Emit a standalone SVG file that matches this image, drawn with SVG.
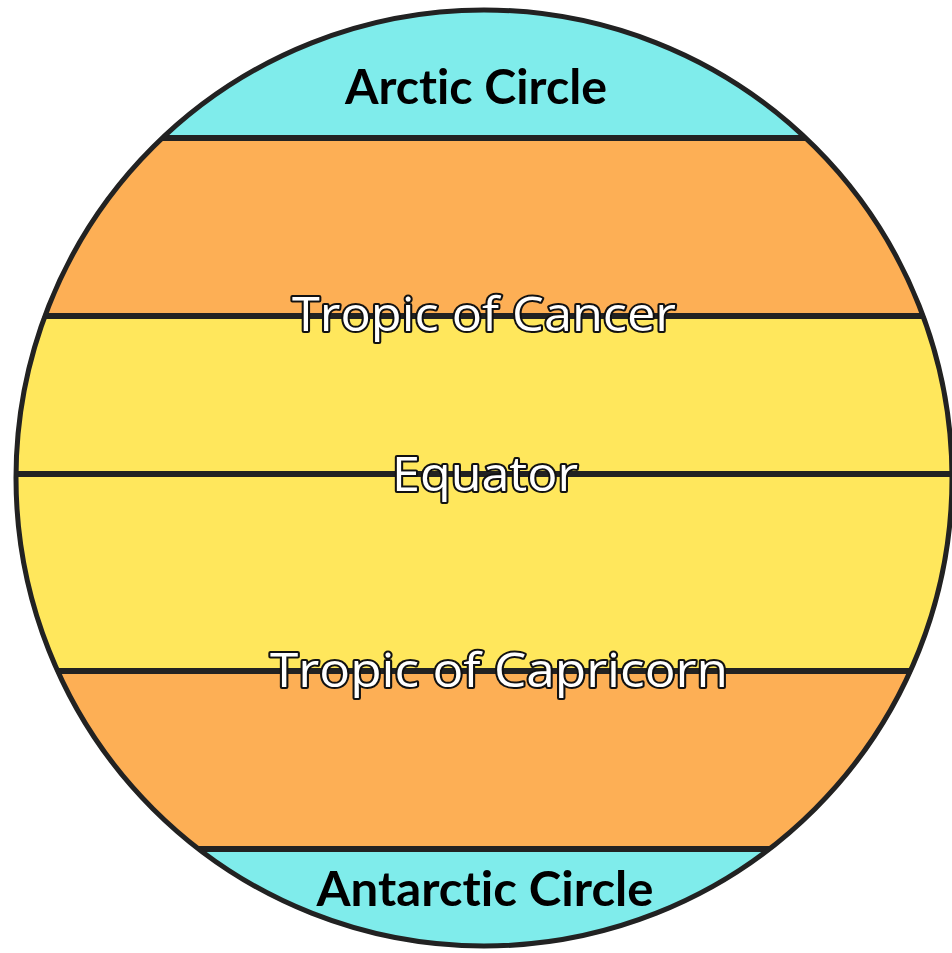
<svg xmlns="http://www.w3.org/2000/svg" width="952" height="953" viewBox="0 0 952 953">
<style>
.band{stroke:none}
.line{stroke:#222;stroke-width:6;fill:none}
.dark{font-family:Lato,"Open Sans",sans-serif;font-weight:700;font-size:48px;fill:#000;text-anchor:middle;font-variant-ligatures:none}
.light{font-family:"Open Sans",Lato,sans-serif;font-weight:500;font-size:48px;fill:#fff;stroke:#111;stroke-width:4;stroke-linejoin:round;paint-order:stroke;text-anchor:middle;font-variant-ligatures:none}
</style>
<defs>
<clipPath id="globe"><circle cx="484" cy="478" r="470"/></clipPath>
</defs>
<g id="globe-bands" clip-path="url(#globe)">
<rect class="band" x="0" y="0" width="952" height="138" fill="#7FECEB"/>
<rect class="band" x="0" y="138" width="952" height="178" fill="#FDAF55"/>
<rect class="band" x="0" y="316" width="952" height="355" fill="#FFE75C"/>
<rect class="band" x="0" y="671" width="952" height="178" fill="#FDAF55"/>
<rect class="band" x="0" y="849" width="952" height="110" fill="#7FECEB"/>
</g>
<g id="connectors" clip-path="url(#globe)">
<line class="line" x1="0" y1="138" x2="952" y2="138"/>
<line class="line" x1="0" y1="316" x2="952" y2="316"/>
<line class="line" x1="0" y1="474" x2="952" y2="474"/>
<line class="line" x1="0" y1="671" x2="952" y2="671"/>
<line class="line" x1="0" y1="849" x2="952" y2="849"/>
</g>
<circle cx="484" cy="478" r="468" fill="none" stroke="#222" stroke-width="5"/>
<g id="arctic"><text class="dark" x="476" y="104" textLength="262" lengthAdjust="spacingAndGlyphs">Arctic Circle</text></g>
<g id="cancer"><text class="light" x="484" y="331" textLength="384" lengthAdjust="spacingAndGlyphs">Tropic of Cancer</text></g>
<g id="equator"><text class="light" x="485" y="491" textLength="186" lengthAdjust="spacingAndGlyphs">Equator</text></g>
<g id="capricorn"><text class="light" x="499" y="687" textLength="458" lengthAdjust="spacingAndGlyphs">Tropic of Capricorn</text></g>
<g id="antarctic"><text class="dark" x="485" y="906" textLength="337" lengthAdjust="spacingAndGlyphs">Antarctic Circle</text></g>
</svg>
